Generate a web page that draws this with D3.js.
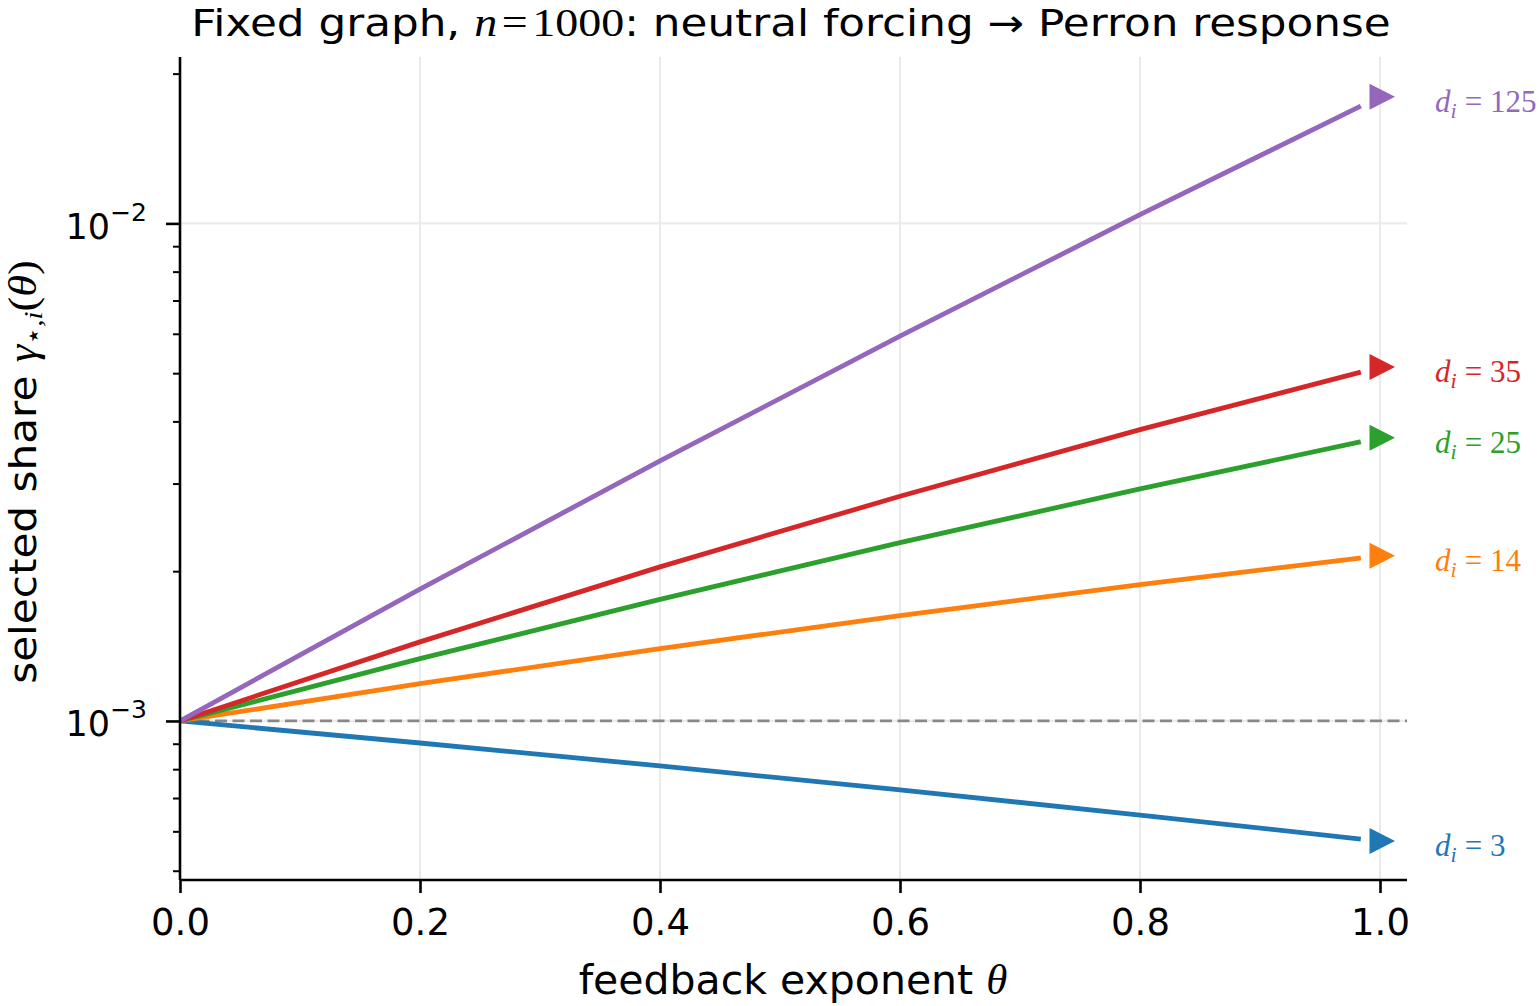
<!DOCTYPE html>
<html>
<head>
<meta charset="utf-8">
<script src="https://cdn.jsdelivr.net/npm/d3@7"></script>
<style>
  html, body { margin: 0; padding: 0; background: #fff; }
  svg { display: block; }
</style>
</head>
<body>
<svg id="chart" width="1539" height="1006"></svg>
<script>
// ---- data ----
const thetas = [0, 0.2, 0.4, 0.6, 0.8, 0.984];
const degrees = [3, 14, 25, 35, 125];
const share_d3   = [0.001, 0.000903, 0.000812, 0.000727, 0.000647, 0.000579];
const share_d14  = [0.001, 0.001188, 0.001398, 0.001628, 0.001879, 0.002126];
const share_d25  = [0.001, 0.001334, 0.001755, 0.002282, 0.002927, 0.003640];
const share_d35  = [0.001, 0.001442, 0.002040, 0.002829, 0.003850, 0.005025];
const share_d125 = [0.001, 0.001840, 0.003331, 0.005937, 0.010410, 0.017210];
const markerTheta = 1.0;
const neutralShare = 0.001;
const xTicks = [0.0, 0.2, 0.4, 0.6, 0.8, 1.0];
const yMajorTicks = [1e-3, 1e-2];
const yMajorExp = ["−3", "−2"];
const seriesColors = ["#1f77b4", "#ff7f0e", "#2ca02c", "#d62728", "#9467bd"];

const series = [share_d3, share_d14, share_d25, share_d35, share_d125].map((vals, k) => ({
  d: degrees[k],
  color: seriesColors[k],
  pts: thetas.map((t, j) => ({ t: t, v: vals[j] }))
}));

// ---- layout ----
const svg = d3.select("#chart");
const L = 180, R = 1407, T = 57, B = 880;
const x = d3.scaleLinear().domain([0, 1.0225]).range([L, R]);
const y = d3.scaleLog().domain([4.79e-4, 0.0216]).range([B, T]);

const sans = "'DejaVu Sans', sans-serif";
const serif = "'Liberation Serif', 'Times New Roman', serif";

// grid
const grid = svg.append("g");
grid.selectAll("line.vx").data(xTicks.slice(1)).enter().append("line")
  .attr("x1", d => x(d)).attr("x2", d => x(d)).attr("y1", T).attr("y2", B)
  .attr("stroke", "#ebebeb").attr("stroke-width", 2.2);
grid.selectAll("line.hy").data(yMajorTicks).enter().append("line")
  .attr("x1", L).attr("x2", R).attr("y1", d => y(d)).attr("y2", d => y(d))
  .attr("stroke", "#ebebeb").attr("stroke-width", 2.2);

// neutral dashed line
svg.append("line")
  .attr("x1", L).attr("x2", R).attr("y1", y(neutralShare)).attr("y2", y(neutralShare))
  .attr("stroke", "#888888").attr("stroke-width", 2.8).attr("stroke-dasharray", "12,5.5");

// lines
const line = d3.line().x(p => x(p.t)).y(p => y(p.v)).curve(d3.curveMonotoneX);
const gLines = svg.append("g");
series.forEach(s => {
  gLines.append("path").attr("d", line(s.pts))
    .attr("fill", "none").attr("stroke", s.color).attr("stroke-width", 4.8)
    .attr("stroke-linecap", "butt");
});

// markers (triangles) and labels
series.forEach(s => {
  const last = s.pts[s.pts.length - 1];
  const prev = s.pts[s.pts.length - 2];
  const slope = (Math.log10(last.v) - Math.log10(prev.v)) / (last.t - prev.t);
  const vm = Math.pow(10, Math.log10(last.v) + slope * (markerTheta - last.t));
  const cx = x(markerTheta) + 2, cy = y(vm);
  svg.append("path")
    .attr("d", `M${cx + 13},${cy} L${cx - 12.5},${cy - 13} L${cx - 12.5},${cy + 13} Z`)
    .attr("fill", s.color);
  const t = svg.append("text")
    .attr("x", 1435).attr("y", cy + 15)
    .attr("font-family", serif).attr("font-size", 31).attr("fill", s.color);
  t.append("tspan").attr("font-style", "italic").text("d");
  t.append("tspan").attr("font-style", "italic").attr("font-size", 22).attr("dy", 6).text("i");
  t.append("tspan").attr("dy", -6).attr("dx", 8).text("=");
  t.append("tspan").attr("dx", 8).text(s.d);
});

// axes
const axisG = svg.append("g");
const xAxis = axisG.append("g").attr("transform", `translate(0,${B})`)
  .call(d3.axisBottom(x).tickValues(xTicks).tickFormat(d3.format(".1f")).tickSize(13));
xAxis.select(".domain").attr("stroke-width", 2.6).attr("d", `M${L},0H${R}`);
xAxis.selectAll(".tick line").attr("stroke-width", 2.6);
xAxis.selectAll("text").attr("font-family", sans).attr("font-size", 37).attr("fill", "#000")
  .attr("y", 55).attr("dy", 0);

// minor y ticks
const minorTicks = y.ticks().filter(v => !yMajorTicks.some(m => Math.abs(m - v) / m < 1e-9));
const yMinor = axisG.append("g").attr("transform", `translate(${L},0)`)
  .call(d3.axisLeft(y).tickValues(minorTicks).tickFormat("").tickSize(7));
yMinor.select(".domain").remove();
yMinor.selectAll(".tick line").attr("stroke-width", 2);

const yMajor = axisG.append("g").attr("transform", `translate(${L},0)`)
  .call(d3.axisLeft(y).tickValues(yMajorTicks).tickFormat("").tickSize(14));
yMajor.select(".domain").attr("stroke-width", 2.6).attr("d", `M0,${B}V${T}`);
yMajor.selectAll(".tick line").attr("stroke-width", 2.6);
yMajor.selectAll(".tick").each(function (d, i) {
  const tx = d3.select(this).append("text")
    .attr("x", -33).attr("y", 15).attr("text-anchor", "end")
    .attr("font-family", sans).attr("font-size", 35).attr("fill", "#000");
  tx.append("tspan").text("10");
  tx.append("tspan").attr("font-size", 25).attr("dy", -18).text(yMajorExp[i]);
});

// title (slightly widened to match the reference's width)
const title = svg.append("text")
  .attr("transform", "translate(791,36) scale(1.15,1)")
  .attr("x", 0).attr("y", 0).attr("text-anchor", "middle")
  .attr("font-family", sans).attr("font-size", 38).attr("fill", "#000");
title.append("tspan").text("Fixed graph, ");
title.append("tspan").attr("font-family", serif).attr("font-style", "italic").attr("font-size", 40).text("n");
title.append("tspan").attr("font-family", serif).attr("font-size", 40).attr("dx", 4).text("=");
title.append("tspan").attr("font-family", serif).attr("font-size", 40).attr("dx", 4).text("1000");
title.append("tspan").text(": neutral forcing → Perron response");

// x label
const xl = svg.append("text").attr("x", 793).attr("y", 994).attr("text-anchor", "middle")
  .attr("font-family", sans).attr("font-size", 41).attr("fill", "#000");
xl.append("tspan").text("feedback exponent ");
xl.append("tspan").attr("font-family", serif).attr("font-style", "italic").attr("font-size", 43).text("θ");

// y label (lengthened along its axis to match the reference)
const yl = svg.append("text").attr("transform", "translate(36,472) rotate(-90) scale(1.11,1)")
  .attr("text-anchor", "middle")
  .attr("font-family", sans).attr("font-size", 38).attr("fill", "#000");
yl.append("tspan").text("selected share ");
yl.append("tspan").attr("font-family", serif).attr("font-style", "italic").attr("font-size", 40).text("γ");
yl.append("tspan").attr("font-family", serif).attr("font-size", 26).attr("dy", 6).text("⋆,");
yl.append("tspan").attr("font-family", serif).attr("font-style", "italic").attr("font-size", 26).text("i");
yl.append("tspan").attr("font-family", serif).attr("font-size", 40).attr("dy", -6).text("(");
yl.append("tspan").attr("font-family", serif).attr("font-style", "italic").attr("font-size", 40).text("θ");
yl.append("tspan").attr("font-family", serif).attr("font-size", 40).text(")");
</script>
</body>
</html>
